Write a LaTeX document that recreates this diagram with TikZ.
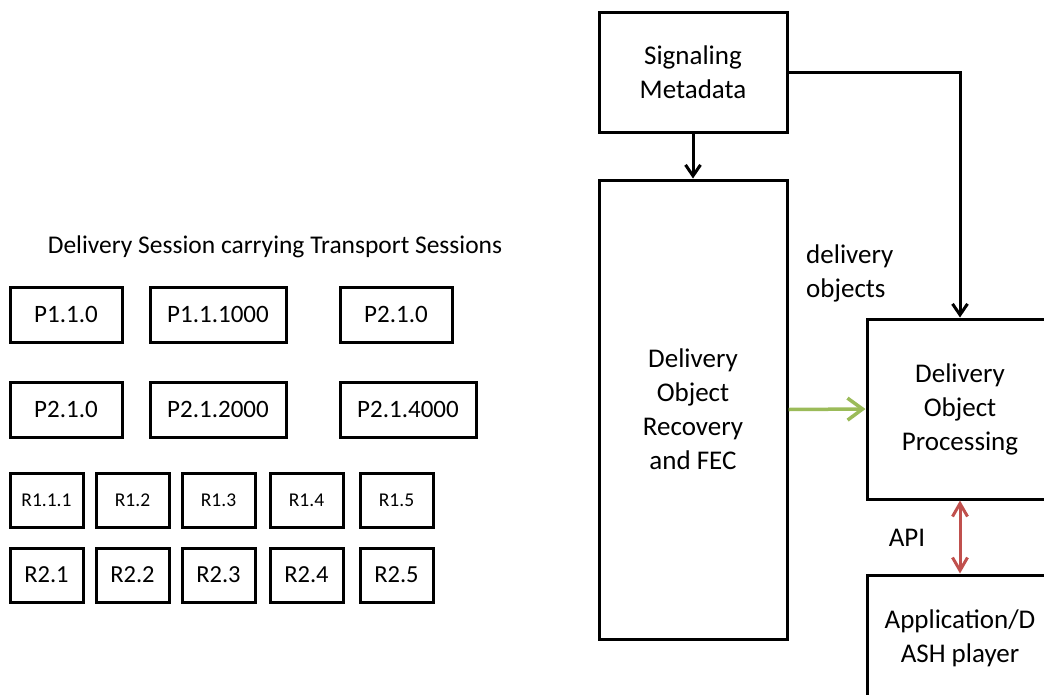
\documentclass[tikz,border=0pt]{standalone}
\usepackage{fontspec}
\setmainfont{Carlito}
\usetikzlibrary{arrows.meta}
\definecolor{dgreen}{RGB}{155,187,89}
\definecolor{dred}{RGB}{192,80,77}
\tikzset{
  box/.style={draw=black, line width=3pt, inner sep=0pt, align=center},
  pbox/.style={box, minimum height=55pt, font=\fontsize{25}{30}\selectfont},
  rbox/.style={box, minimum width=73pt, minimum height=54pt},
  bigbox/.style={box, font=\fontsize{27}{34}\selectfont},
  lbl/.style={inner sep=0pt, font=\fontsize{27}{34}\selectfont},
  conn/.style={line width=3pt, -{Straight Barb[length=11pt,width=15pt,line width=3pt]}},
}
\begin{document}
\begin{tikzpicture}[x=1pt,y=-1pt]
\useasboundingbox (0,0) rectangle (1044,694);
\clip (0,0) rectangle (1044,694);
% title
\node[inner sep=0pt, font=\fontsize{25.5}{30}\selectfont] (title) at (275,247) {Delivery Session carrying Transport Sessions};
% P rows
\node[pbox, minimum width=112pt] (p11) at (66,314.5) {P1.1.0};
\node[pbox, minimum width=136pt] (p12) at (218,314.5) {P1.1.1000};
\node[pbox, minimum width=112pt] (p13) at (396,314.5) {P2.1.0};
\node[pbox, minimum width=112pt] (p21) at (66,409.5) {P2.1.0};
\node[pbox, minimum width=136pt] (p22) at (218,409.5) {P2.1.2000};
\node[pbox, minimum width=136pt] (p23) at (408,409.5) {P2.1.4000};
% R rows
\foreach \n/\x in {1/46.5,2/132.5,3/218.5,4/306.5,5/396.5}{
  \node[rbox, font=\fontsize{24.5}{30}\selectfont] (r2\n) at (\x,575) {R2.\n};
}
\node[rbox, font=\fontsize{19.5}{24}\selectfont] (r11) at (46.5,500) {R1.1.1};
\foreach \n/\x in {2/132.5,3/218.5,4/306.5,5/396.5}{
  \node[rbox, font=\fontsize{19.5}{24}\selectfont] (r1\n) at (\x,500) {R1.\n};
}
% right part
\node[bigbox, minimum width=188pt, minimum height=120pt] (sm) at (693,72) {Signaling\\Metadata};
\node[bigbox, minimum width=188pt, minimum height=459pt] (rec) at (693,409.5) {Delivery\\Object\\Recovery\\and FEC};
\node[bigbox, minimum width=186pt, minimum height=180pt] (dop) at (960,409) {Delivery\\Object\\Processing};
\node[bigbox, minimum width=186pt, minimum height=126pt] (app) at (960,638) {Application/D\\ASH player};
\node[lbl, anchor=west, align=left] (dobj) at (806,273) {delivery\\objects};
\node[lbl] (api) at (907,538) {API};
% connectors
\draw[conn] (sm.south) -- (rec.north);
\draw[conn] (sm.east) -| (dop.north);
\draw[line width=3.5pt, draw=dgreen, -{Straight Barb[length=15pt,width=22pt,line width=3.5pt]}] (rec.east) -- (dop.west);
\draw[line width=3pt, draw=dred, {Straight Barb[length=13pt,width=15pt,line width=3pt]}-{Straight Barb[length=13pt,width=15pt,line width=3pt]}] (dop.south) -- (app.north);
\end{tikzpicture}
\end{document}
